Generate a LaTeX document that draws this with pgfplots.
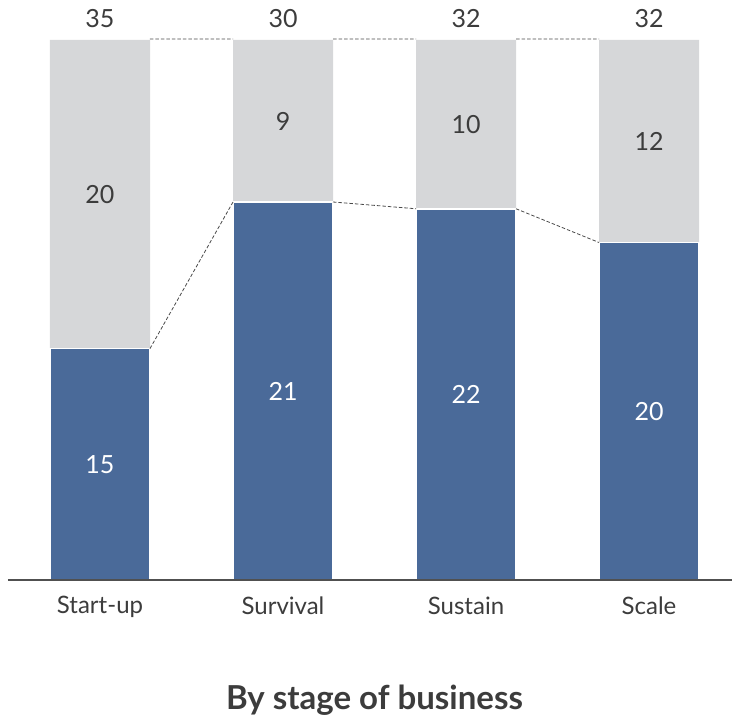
\documentclass[border=0pt]{standalone}
\usepackage{fontspec}
\setmainfont{Lato}
\usepackage{pgfplots}
\pgfplotsset{compat=1.18}
\usepackage{pgfplotstable}
\definecolor{bblue}{HTML}{4A6A99}
\definecolor{bgrey}{HTML}{D6D7D9}
\definecolor{txt}{HTML}{3C3C3C}
\definecolor{dashcol}{HTML}{4A4A4A}

\pgfplotstableread{
x blue grey total
0 15 20 35
1 21 9 30
2 22 10 32
3 20 12 32
}\data

\begin{document}
\begin{tikzpicture}
\path[use as bounding box] (-8pt,-141pt) rectangle (724pt,580pt);
\begin{axis}[
  scale only axis, width=724pt, height=540pt,
  anchor=south west, at={(0pt,0pt)},
  xmin=-0.50273, xmax=3.45355, ymin=0, ymax=100,
  axis x line*=bottom, axis y line=none, axis on top=true,
  x axis line style={draw=txt!90, line width=1.3pt, -},
  xtick={0,1,2,3}, xticklabels={Start-up,Survival,Sustain,Scale},
  major tick length=0pt,
  x tick label style={font=\fontsize{24}{28}\selectfont, text=txt, yshift=-13pt},
  /pgf/number format/assume math mode=true,
  clip=false,
]
\addplot[ybar, bar width=100pt, bar shift=0pt, fill=bgrey, draw=none]
  table[x=x, y expr=100]{\data};
\addplot[ybar, bar width=100pt, bar shift=0pt, fill=bblue, draw=white, line width=1.6pt]
  table[x=x, y expr={100*\thisrow{blue}/\thisrow{total}}]{\data};
% connectors
\addplot[dashcol, line width=0.8pt, dash pattern=on 3.5pt off 2pt, unbounded coords=jump] coordinates {
  (0.27322,42.857) (0.72678,70) (1,nan)
  (1.27322,70) (1.72678,68.75) (2,nan)
  (2.27322,68.75) (2.72678,62.5) (3,nan)
  (0.27322,100.2) (0.72678,100.2) (1,nan)
  (1.27322,100.2) (1.72678,100.2) (2,nan)
  (2.27322,100.2) (2.72678,100.2)
};
% labels
\addplot[only marks, mark=none, point meta=explicit, nodes near coords,
  nodes near coords style={anchor=center, font=\fontsize{25}{28}\selectfont, text=white}]
  table[x=x, y expr={50*\thisrow{blue}/\thisrow{total}}, meta=blue]{\data};
\addplot[only marks, mark=none, point meta=explicit, nodes near coords,
  nodes near coords style={anchor=center, font=\fontsize{25}{28}\selectfont, text=txt}]
  table[x=x, y expr={50+50*\thisrow{blue}/\thisrow{total}}, meta=grey]{\data};
\addplot[only marks, mark=none, point meta=explicit, nodes near coords,
  nodes near coords style={anchor=center, yshift=21pt, font=\fontsize{25}{28}\selectfont, text=txt}]
  table[x=x, y expr=100, meta=total]{\data};
\node[font=\bfseries\fontsize{33}{38}\selectfont, text=txt] at (axis cs:1.5,0) [yshift=-120pt] {By stage of business};
\end{axis}
\end{tikzpicture}
\end{document}
